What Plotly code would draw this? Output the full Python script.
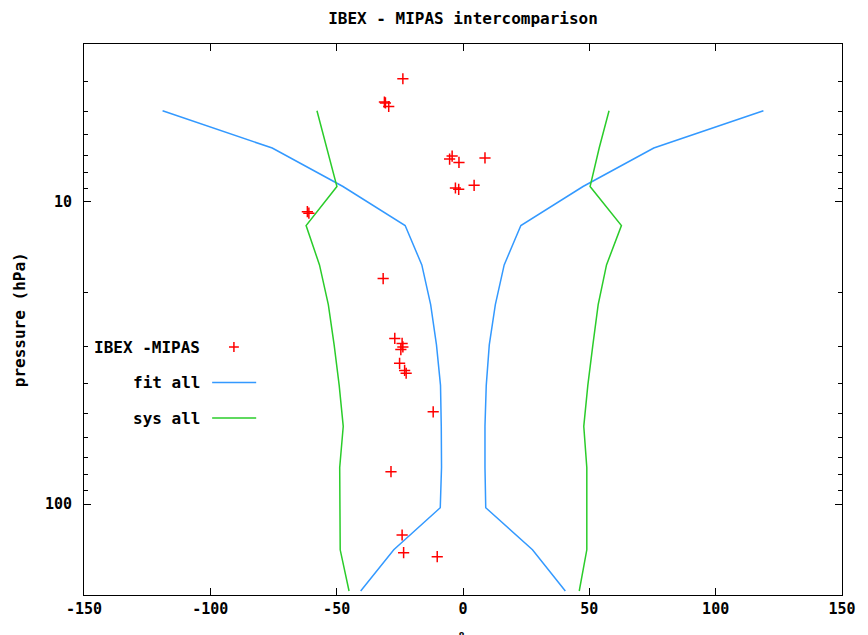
import math
import plotly.graph_objects as go

# ---- data ----
pressure_levels = [4.99, 6.63, 8.89, 11.97, 16.16, 21.88, 29.72, 40.47, 55.29, 75.65, 102.87, 141.70, 193.99]
fit_left = [-118.9, -75.5, -47.5, -22.9, -16.3, -12.8, -10.5, -8.9, -8.6, -8.5, -9.0, -27.4, -40.5]
fit_right = [118.9, 75.5, 47.5, 22.9, 16.3, 12.8, 10.4, 9.2, 8.7, 8.7, 9.0, 27.5, 40.5]
sys_left = [-57.8, -53.9, -49.9, -62.1, -56.8, -53.3, -51.0, -49.0, -47.4, -48.8, -48.8, -48.6, -45.1]
sys_right = [57.8, 53.9, 50.3, 62.7, 56.8, 53.5, 51.4, 49.4, 47.8, 49.0, 49.0, 49.0, 46.0]

ibex_diff = [-23.8, -31.1, -30.7, -29.4, -5.3, -4.3, -1.6, 8.7, -3.0, -1.7, 4.4, -61.6, -61.0,
             -31.6, -27.0, -24.1, -23.8, -24.6, -25.1, -23.1, -22.5, -11.8, -28.5, -24.1, -23.5, -10.2]
ibex_p = [3.91, 4.67, 4.70, 4.83, 7.21, 7.05, 7.40, 7.15, 8.99, 9.08, 8.81, 10.77, 10.89,
          17.93, 28.3, 29.4, 30.2, 30.8, 34.2, 36.1, 36.9, 49.5, 78.1, 126.6, 144.8, 149.3]

x_ticks = [-150, -100, -50, 0, 50, 100, 150]
y_ticks = [10, 100]
y_minor = [4, 5, 6, 7, 8, 9, 20, 30, 40, 50, 60, 70, 80, 90]

RED = "#ff0000"
BLUE = "#3399ff"
GREEN = "#2acc2a"
FONT = "DejaVu Sans Mono"

fig = go.Figure()
fig.add_trace(go.Scatter(x=fit_left + [None] + fit_right,
                         y=pressure_levels + [None] + pressure_levels,
                         mode="lines", line=dict(color=BLUE, width=1.5),
                         name="fit all", showlegend=False))
fig.add_trace(go.Scatter(x=sys_left + [None] + sys_right,
                         y=pressure_levels + [None] + pressure_levels,
                         mode="lines", line=dict(color=GREEN, width=1.5),
                         name="sys all", showlegend=False))
fig.add_trace(go.Scatter(x=ibex_diff, y=ibex_p, mode="markers",
                         marker=dict(symbol="cross-thin", size=8,
                                     line=dict(color=RED, width=1.5)),
                         name="IBEX -MIPAS", showlegend=False))

# page has an 8px body margin; figure is sized so the plot area lands at
# page pixels x 84..850, y 44..595
OFF = 8
W, H = 868 - OFF, 635 - OFF
L, R, T, B = 84 - OFF, 18, 44 - OFF, 40
pw, ph = W - L - R, H - T - B

def px(xpage):
    return (xpage - OFF - L) / pw

def py(ypage):
    return (H - B - (ypage - OFF)) / ph

# custom legend (gnuplot style: text right-aligned, sample on the right)
legend_rows = [("IBEX -MIPAS", 347, "point"), ("fit all", 382.5, BLUE), ("sys all", 418, GREEN)]
annotations = []
shapes = []
for label, ypix, kind in legend_rows:
    annotations.append(dict(text="<b>" + label + "</b>", xref="paper", yref="paper",
                            x=px(203), y=py(ypix), xanchor="right", yanchor="middle",
                            showarrow=False, font=dict(family=FONT, size=16, color="black")))
    if kind == "point":
        shapes.append(dict(type="line", xref="paper", yref="paper",
                           x0=px(230.5), x1=px(240.5), y0=py(ypix), y1=py(ypix),
                           line=dict(color=RED, width=1.5)))
        shapes.append(dict(type="line", xref="paper", yref="paper",
                           x0=px(235.5), x1=px(235.5), y0=py(ypix - 5), y1=py(ypix + 5),
                           line=dict(color=RED, width=1.5)))
    else:
        shapes.append(dict(type="line", xref="paper", yref="paper",
                           x0=px(213.5), x1=px(258), y0=py(ypix), y1=py(ypix),
                           line=dict(color=kind, width=1.5)))

annotations.append(dict(text="<b>pressure (hPa)</b>", xref="paper", yref="paper",
                        x=px(19), y=0.5, xanchor="center", yanchor="middle", textangle=-90,
                        showarrow=False, font=dict(family=FONT, size=16, color="black")))
annotations.append(dict(text="<b>%</b>", xref="paper", yref="paper",
                        x=0.5, y=py(627), xanchor="center", yanchor="top",
                        showarrow=False, font=dict(family=FONT, size=15, color="black")))

fig.update_layout(
    width=W, height=H,
    margin=dict(l=L, r=R, t=T, b=B),
    paper_bgcolor="white", plot_bgcolor="white",
    title=dict(text="<b>IBEX - MIPAS intercomparison</b>", x=0.5, xref="paper",
               y=1 - (18.5 - OFF) / H, yref="container", xanchor="center", yanchor="middle",
               font=dict(family=FONT, size=16, color="black")),
    font=dict(family=FONT, size=15, color="black", weight="bold"),
    annotations=annotations, shapes=shapes,
    showlegend=False,
)
fig.update_xaxes(range=[-150, 150], tickmode="array", tickvals=x_ticks,
                 ticktext=[str(v) for v in x_ticks],
                 ticks="inside", ticklen=7, tickcolor="black",
                 showline=True, linecolor="black", linewidth=1, mirror="ticks",
                 showgrid=False, zeroline=False,
                 tickfont=dict(family=FONT, size=15, color="black", weight="bold"))
fig.update_yaxes(type="log", range=[math.log10(200), math.log10(3)],
                 tickmode="array", tickvals=y_ticks, ticktext=[str(v) for v in y_ticks],
                 ticks="inside", ticklen=7, tickcolor="black", ticklabelstandoff=8,
                 minor=dict(tickmode="array", tickvals=y_minor, ticks="inside", ticklen=4,
                            tickcolor="black", showgrid=False),
                 showline=True, linecolor="black", linewidth=1, mirror="ticks",
                 showgrid=False, zeroline=False,
                 tickfont=dict(family=FONT, size=15, color="black", weight="bold"))

fig.write_html("out.html")
